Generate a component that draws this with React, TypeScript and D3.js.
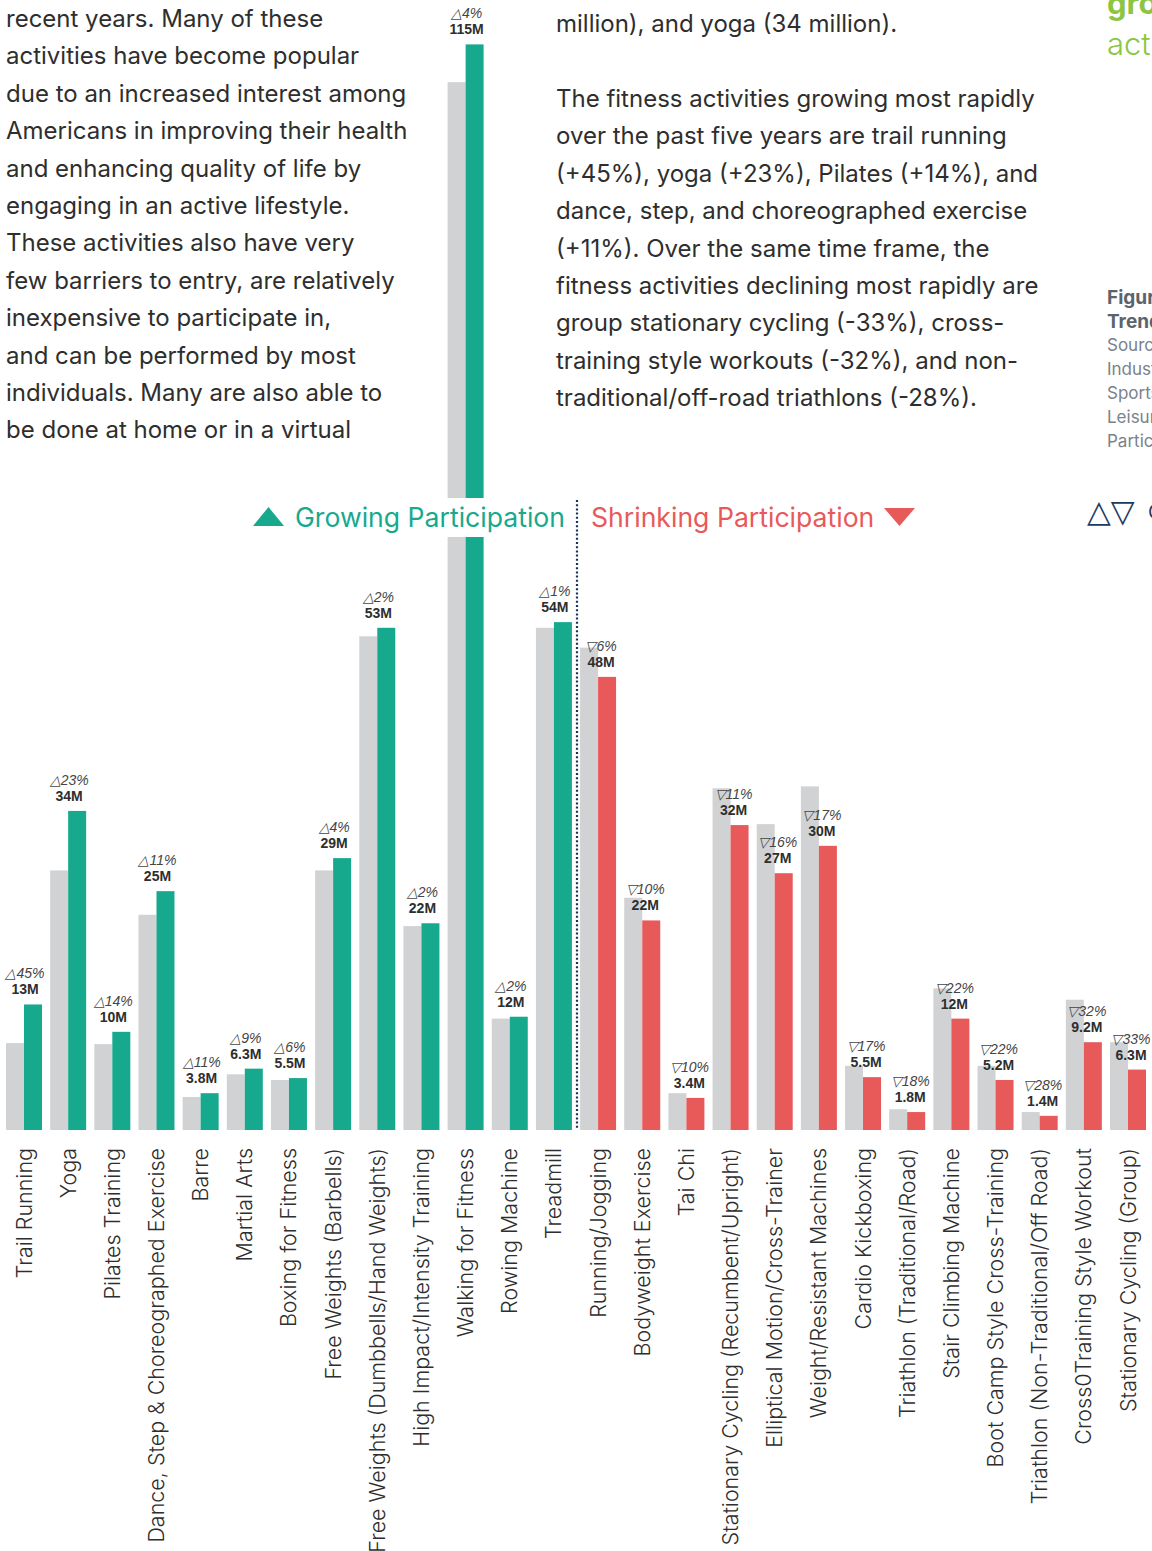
import React from "react";
import * as d3 from "d3";

const categories = [
  "Trail Running", "Yoga", "Pilates Training", "Dance, Step & Choreographed Exercise", "Barre",
  "Martial Arts", "Boxing for Fitness", "Free Weights (Barbells)", "Free Weights (Dumbbells/Hand Weights)",
  "High Impact/Intensity Training", "Walking for Fitness", "Rowing Machine", "Treadmill",
  "Running/Jogging", "Bodyweight Exercise", "Tai Chi", "Stationary Cycling (Recumbent/Upright)",
  "Elliptical Motion/Cross-Trainer", "Weight/Resistant Machines", "Cardio Kickboxing",
  "Triathlon (Traditional/Road)", "Stair Climbing Machine", "Boot Camp Style Cross-Training",
  "Triathlon (Non-Traditional/Off Road)", "Cross0Training Style Workout", "Stationary Cycling (Group)",
];
const previousValues = [9.2, 27.5, 9.1, 22.8, 3.5, 5.9, 5.3, 27.5, 52.3, 21.6, 111.0, 11.8, 53.2,
  51.1, 24.6, 3.9, 36.2, 32.4, 36.4, 6.8, 2.2, 15.0, 6.8, 1.9, 13.8, 9.3];
const currentValues = [13.3, 33.8, 10.4, 25.3, 3.9, 6.5, 5.5, 28.8, 53.2, 21.9, 115.0, 12.0, 53.8,
  48.0, 22.2, 3.4, 32.3, 27.2, 30.1, 5.6, 1.9, 11.8, 5.3, 1.5, 9.3, 6.4];
const valueLabels = ["13M", "34M", "10M", "25M", "3.8M", "6.3M", "5.5M", "29M", "53M", "22M", "115M", "12M", "54M",
  "48M", "22M", "3.4M", "32M", "27M", "30M", "5.5M", "1.8M", "12M", "5.2M", "1.4M", "9.2M", "6.3M"];
const changePct = [45, 23, 14, 11, 11, 9, 6, 4, 2, 2, 4, 2, 1,
  -6, -10, -10, -11, -16, -17, -17, -18, -22, -22, -28, -32, -33];

const leftParagraph = [
  "recent years. Many of these",
  "activities have become popular",
  "due to an increased interest among",
  "Americans in improving their health",
  "and enhancing quality of life by",
  "engaging in an active lifestyle.",
  "These activities also have very",
  "few barriers to entry, are relatively",
  "inexpensive to participate in,",
  "and can be performed by most",
  "individuals. Many are also able to",
  "be done at home or in a virtual",
];
const middleFirst = ["million), and yoga (34 million)."];
const middleParagraph = [
  "The fitness activities growing most rapidly",
  "over the past five years are trail running",
  "(+45%), yoga (+23%), Pilates (+14%), and",
  "dance, step, and choreographed exercise",
  "(+11%). Over the same time frame, the",
  "fitness activities declining most rapidly are",
  "group stationary cycling (-33%), cross-",
  "training style workouts (-32%), and non-",
  "traditional/off-road triathlons (-28%).",
];
const sideNotes = ["Source:", "Industry", "Sports,", "Leisure", "Participation"];

const W = 1152;
const H = 1551;
const GREY = "#d1d2d4";
const TEAL = "#17a98e";
const RED = "#e8595a";
const TEXT = "#2e2e2e";

export default function App() {
  const barW = 18;
  const x = d3.scaleBand<string>()
    .domain(categories)
    .range([6, 1146])
    .paddingInner(1 - 36 / 44.16)
    .paddingOuter(0)
    .align(0);
  const y = d3.scaleLinear().domain([0, 115]).range([1130, 44.4]);
  const baseY = y(0);

  const growCount = changePct.filter((d) => d >= 0).length;
  const lastGrow = categories[growCount - 1];
  const firstShrink = categories[growCount];
  const divX = ((x(lastGrow)! + x.bandwidth()) + x(firstShrink)!) / 2 + 1;

  const sans = "Inter, 'Noto Sans', sans-serif";
  const labelFont = "'Liberation Sans', Arial, sans-serif";

  const upTri = d3.path();
  upTri.moveTo(253, 526); upTri.lineTo(268.5, 507); upTri.lineTo(284, 526); upTri.closePath();
  const downTri = d3.path();
  downTri.moveTo(884, 508); downTri.lineTo(915, 508); downTri.lineTo(899.5, 526); downTri.closePath();

  return (
    <div style={{ position: "absolute", left: 0, top: 0 }}>
      <style>{"body{margin:0}"}</style>
      <svg width={W} height={H} viewBox={`0 0 ${W} ${H}`} style={{ display: "block", background: "#fff" }}>
        {/* body text */}
        <g fontFamily={sans} fontSize={24} fill={TEXT}>
          {leftParagraph.map((t, i) => (
            <text key={"l" + i} x={6} y={27 + i * 37.4}>{t}</text>
          ))}
          {middleFirst.map((t, i) => (
            <text key={"m0" + i} x={556} y={32}>{t}</text>
          ))}
          {middleParagraph.map((t, i) => (
            <text key={"m" + i} x={556} y={107 + i * 37.4}>{t}</text>
          ))}
        </g>
        {/* right column fragments */}
        <g fontFamily={sans}>
          <text x={1107} y={14} fontSize={31} fontWeight={700} fill="#8cc63f">growing</text>
          <text x={1107} y={55} fontSize={31} fontWeight={300} fill="#8cc63f">activities</text>
          <text x={1107} y={304} fontSize={19} fontWeight={700} fill="#5b646c">Figure</text>
          <text x={1107} y={328} fontSize={19} fontWeight={700} fill="#5b646c">Trends</text>
          {sideNotes.map((t, i) => (
            <text key={"s" + i} x={1107} y={351 + i * 24} fontSize={17} fill="#7a828a">{t}</text>
          ))}
          <text x={1087} y={522} fontSize={31} fill="#1f3a5f" fontFamily="'DejaVu Sans', sans-serif">△▽</text>
          <text x={1148} y={519} fontSize={20} fill="#1f3a5f">C</text>
        </g>

        {/* bars */}
        <g>
          {categories.map((c, i) => {
            const x0 = x(c)!;
            const up = changePct[i] >= 0;
            return (
              <g key={c}>
                <rect x={x0} y={y(previousValues[i])} width={barW} height={baseY - y(previousValues[i])} fill={GREY} />
                <rect x={x0 + barW} y={y(currentValues[i])} width={barW} height={baseY - y(currentValues[i])} fill={up ? TEAL : RED} />
              </g>
            );
          })}
        </g>

        {/* value labels */}
        <g fontFamily={labelFont} fill={TEXT} textAnchor="middle">
          {categories.map((c, i) => {
            const up = changePct[i] >= 0;
            const cx = x(c)! + x.bandwidth() / 2 + (up ? 1 : 3);
            const top = y(currentValues[i]);
            return (
              <g key={"lab" + c}>
                <text x={cx} y={top - 26} fontSize={14} fontStyle="italic" fill="#444">
                  {(up ? "△" : "▽") + Math.abs(changePct[i]) + "%"}
                </text>
                <text x={cx} y={top - 10} fontSize={14} fontWeight={700}>{valueLabels[i]}</text>
              </g>
            );
          })}
        </g>

        {/* legend band */}
        <rect x={240} y={498} width={700} height={39} fill="#fff" />
        <line x1={divX} x2={divX} y1={500} y2={baseY} stroke="#1a3358" strokeWidth={2.2} strokeDasharray="2,2.2" />
        <g fontFamily={sans} fontSize={26.6}>
          <path d={upTri.toString()} fill={TEAL} />
          <text x={565} y={526.5} textAnchor="end" fill={TEAL}>Growing Participation</text>
          <text x={591} y={526.5} textAnchor="start" fill={RED}>Shrinking Participation</text>
          <path d={downTri.toString()} fill={RED} />
        </g>

        {/* category labels */}
        <g fontFamily={sans} fontSize={21.5} fontWeight={300} fill={TEXT}>
          {categories.map((c) => {
            const cx = x(c)! + x.bandwidth() / 2;
            return (
              <text key={"ax" + c} transform={`translate(${cx + 7.5},1148) rotate(-90)`} textAnchor="end">{c}</text>
            );
          })}
        </g>
      </svg>
    </div>
  );
}
